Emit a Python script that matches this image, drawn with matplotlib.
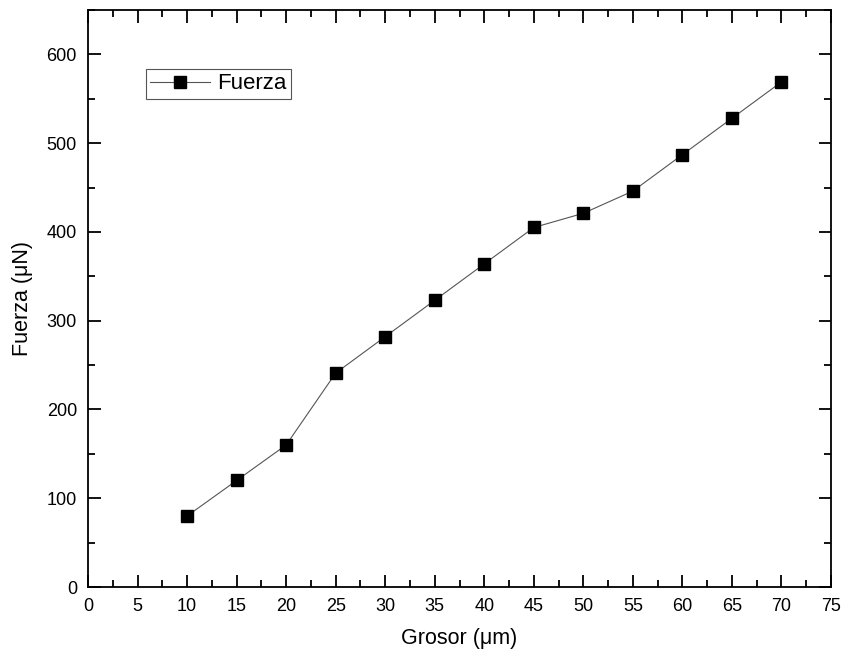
import matplotlib.pyplot as plt
from matplotlib.ticker import MultipleLocator

plt.rcParams['font.family'] = ['Liberation Sans', 'DejaVu Sans']

# datos
grosor = [10, 15, 20, 25, 30, 35, 40, 45, 50, 55, 60, 65, 70]
fuerza = [80, 120, 160, 241, 282, 323, 364, 405, 421, 446, 487, 528, 569]

fig = plt.figure(figsize=(8.44, 6.58), dpi=100)
ax = fig.add_axes([0.1043, 0.1079, 0.8803, 0.8769])

ax.plot(grosor, fuerza, color='#555555', linewidth=0.8, marker='s',
        markersize=8, markerfacecolor='black', markeredgecolor='black',
        label='Fuerza')

ax.set_xlim(0, 75)
ax.set_ylim(0, 650)
ax.xaxis.set_major_locator(MultipleLocator(5))
ax.xaxis.set_minor_locator(MultipleLocator(2.5))
ax.yaxis.set_major_locator(MultipleLocator(100))
ax.yaxis.set_minor_locator(MultipleLocator(50))
ax.tick_params(which='both', direction='in', top=True, right=True,
               labeltop=False, labelright=False, width=1.3, labelsize=13)
ax.tick_params(which='major', length=9, pad=8)
ax.tick_params(which='minor', length=5)
for s in ax.spines.values():
    s.set_linewidth(1.3)

ax.set_xlabel('Grosor (\u03bcm)', fontsize=15.5, labelpad=9)
ax.set_ylabel('Fuerza (\u03bcN)', fontsize=15.5, labelpad=10)

leg = ax.legend(loc='upper left', bbox_to_anchor=(0.078, 0.898), fontsize=16,
                fancybox=False, framealpha=1, edgecolor='#555555',
                handlelength=2.7, borderpad=0.2, handletextpad=0.3,
                borderaxespad=0)
leg.get_frame().set_linewidth(0.8)

fig.savefig('out.png', dpi=100)
